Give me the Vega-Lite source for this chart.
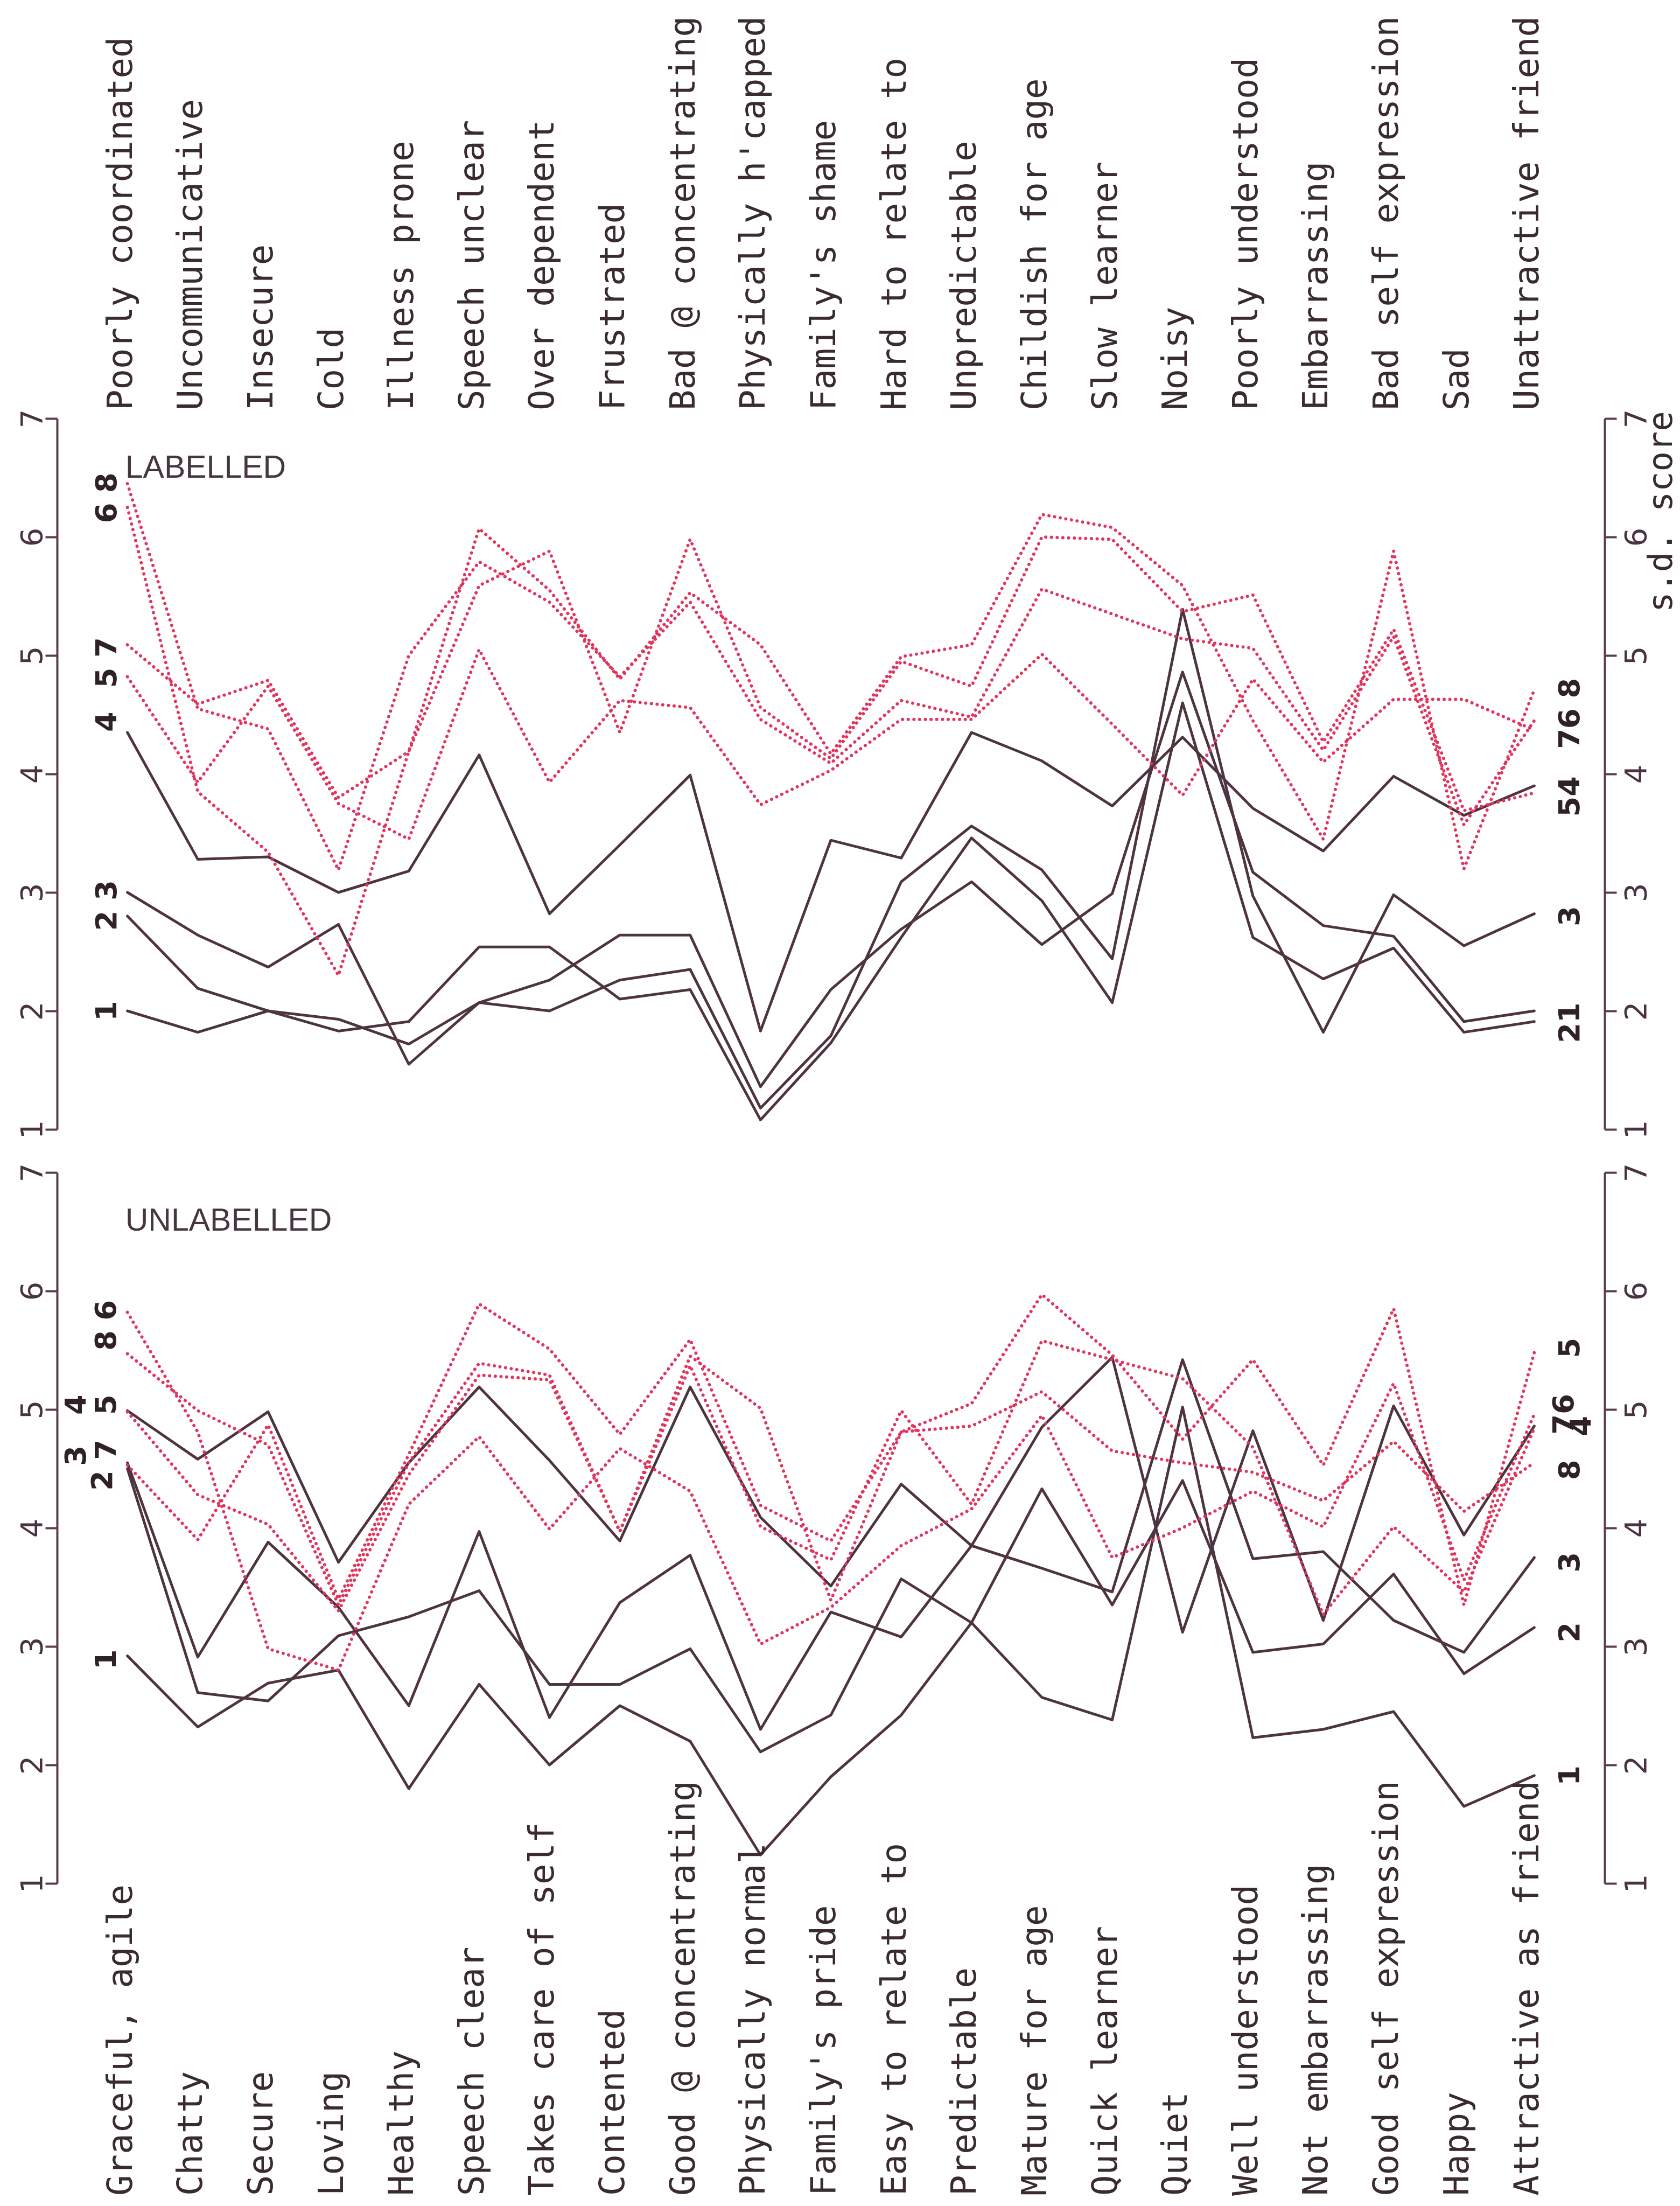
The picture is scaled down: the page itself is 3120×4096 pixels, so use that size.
{
"$schema": "https://vega.github.io/schema/vega-lite/v6.json",
"background": "white",
"padding": {"left": 32, "top": 29, "right": 16, "bottom": 8},
"config": {"view": {"stroke": null}, "font": "DejaVu Sans"},
"bounds": "flush",
"spacing": 80,
"datasets": {
"traits": [
{"t":1,"neg":"Poorly coordinated","pos":"Graceful, agile"},
{"t":2,"neg":"Uncommunicative","pos":"Chatty"},
{"t":3,"neg":"Insecure","pos":"Secure"},
{"t":4,"neg":"Cold","pos":"Loving"},
{"t":5,"neg":"Illness prone","pos":"Healthy"},
{"t":6,"neg":"Speech unclear","pos":"Speech clear"},
{"t":7,"neg":"Over dependent","pos":"Takes care of self"},
{"t":8,"neg":"Frustrated","pos":"Contented"},
{"t":9,"neg":"Bad @ concentrating","pos":"Good @ concentrating"},
{"t":10,"neg":"Physically h'capped","pos":"Physically normal"},
{"t":11,"neg":"Family's shame","pos":"Family's pride"},
{"t":12,"neg":"Hard to relate to","pos":"Easy to relate to"},
{"t":13,"neg":"Unpredictable","pos":"Predictable"},
{"t":14,"neg":"Childish for age","pos":"Mature for age"},
{"t":15,"neg":"Slow learner","pos":"Quick learner"},
{"t":16,"neg":"Noisy","pos":"Quiet"},
{"t":17,"neg":"Poorly understood","pos":"Well understood"},
{"t":18,"neg":"Embarrassing","pos":"Not embarrassing"},
{"t":19,"neg":"Bad self expression","pos":"Good self expression"},
{"t":20,"neg":"Sad","pos":"Happy"},
{"t":21,"neg":"Unattractive friend","pos":"Attractive as friend"}
],
"Ls": [
{"s":"S4","t":1,"v":4.35},{"s":"S4","t":2,"v":3.28},{"s":"S4","t":3,"v":3.30},{"s":"S4","t":4,"v":3.0},{"s":"S4","t":5,"v":3.18},{"s":"S4","t":6,"v":4.16},{"s":"S4","t":7,"v":2.82},{"s":"S4","t":8,"v":3.40},{"s":"S4","t":9,"v":3.99},{"s":"S4","t":10,"v":1.83},{"s":"S4","t":11,"v":3.44},{"s":"S4","t":12,"v":3.29},{"s":"S4","t":13,"v":4.35},{"s":"S4","t":14,"v":4.11},{"s":"S4","t":15,"v":3.73},{"s":"S4","t":16,"v":4.31},{"s":"S4","t":17,"v":3.71},{"s":"S4","t":18,"v":3.35},{"s":"S4","t":19,"v":3.98},{"s":"S4","t":20,"v":3.65},{"s":"S4","t":21,"v":3.90},
{"s":"P","t":1,"v":3.0},{"s":"P","t":2,"v":2.64},{"s":"P","t":3,"v":2.37},{"s":"P","t":4,"v":2.73},{"s":"P","t":5,"v":1.55},{"s":"P","t":6,"v":2.07},{"s":"P","t":7,"v":2.0},{"s":"P","t":8,"v":2.26},{"s":"P","t":9,"v":2.35},{"s":"P","t":10,"v":1.18},{"s":"P","t":11,"v":1.79},{"s":"P","t":12,"v":3.09},{"s":"P","t":13,"v":3.56},{"s":"P","t":14,"v":3.19},{"s":"P","t":15,"v":2.44},{"s":"P","t":16,"v":5.39},{"s":"P","t":17,"v":2.97},{"s":"P","t":18,"v":1.82},{"s":"P","t":19,"v":2.98},{"s":"P","t":20,"v":2.55},{"s":"P","t":21,"v":2.82},
{"s":"Q","t":1,"v":2.8},{"s":"Q","t":2,"v":2.19},{"s":"Q","t":3,"v":2.0},{"s":"Q","t":4,"v":1.93},{"s":"Q","t":5,"v":1.72},{"s":"Q","t":6,"v":2.07},{"s":"Q","t":7,"v":2.26},{"s":"Q","t":8,"v":2.64},{"s":"Q","t":9,"v":2.64},{"s":"Q","t":10,"v":1.36},{"s":"Q","t":11,"v":2.18},{"s":"Q","t":12,"v":2.69},{"s":"Q","t":13,"v":3.09},{"s":"Q","t":14,"v":2.56},{"s":"Q","t":15,"v":2.99},{"s":"Q","t":16,"v":4.86},{"s":"Q","t":17,"v":3.17},{"s":"Q","t":18,"v":2.72},{"s":"Q","t":19,"v":2.63},{"s":"Q","t":20,"v":1.91},{"s":"Q","t":21,"v":2.0},
{"s":"R","t":1,"v":2.0},{"s":"R","t":2,"v":1.82},{"s":"R","t":3,"v":2.0},{"s":"R","t":4,"v":1.83},{"s":"R","t":5,"v":1.91},{"s":"R","t":6,"v":2.54},{"s":"R","t":7,"v":2.54},{"s":"R","t":8,"v":2.10},{"s":"R","t":9,"v":2.18},{"s":"R","t":10,"v":1.08},{"s":"R","t":11,"v":1.73},{"s":"R","t":12,"v":2.62},{"s":"R","t":13,"v":3.46},{"s":"R","t":14,"v":2.93},{"s":"R","t":15,"v":2.07},{"s":"R","t":16,"v":4.60},{"s":"R","t":17,"v":2.62},{"s":"R","t":18,"v":2.27},{"s":"R","t":19,"v":2.53},{"s":"R","t":20,"v":1.82},{"s":"R","t":21,"v":1.91}
],
"Ld": [
{"s":"X","t":1,"v":6.45},{"s":"X","t":2,"v":4.55},{"s":"X","t":3,"v":4.38},{"s":"X","t":4,"v":3.19},{"s":"X","t":5,"v":5.0},{"s":"X","t":6,"v":5.79},{"s":"X","t":7,"v":5.45},{"s":"X","t":8,"v":4.82},{"s":"X","t":9,"v":5.45},{"s":"X","t":10,"v":4.46},{"s":"X","t":11,"v":4.09},{"s":"X","t":12,"v":4.62},{"s":"X","t":13,"v":4.48},{"s":"X","t":14,"v":5.56},{"s":"X","t":15,"v":5.35},{"s":"X","t":16,"v":5.14},{"s":"X","t":17,"v":5.06},{"s":"X","t":18,"v":4.20},{"s":"X","t":19,"v":5.16},{"s":"X","t":20,"v":3.57},{"s":"X","t":21,"v":4.45},
{"s":"Y","t":1,"v":6.25},{"s":"Y","t":2,"v":3.85},{"s":"Y","t":3,"v":3.34},{"s":"Y","t":4,"v":2.30},{"s":"Y","t":5,"v":4.19},{"s":"Y","t":6,"v":6.07},{"s":"Y","t":7,"v":5.55},{"s":"Y","t":8,"v":4.80},{"s":"Y","t":9,"v":5.53},{"s":"Y","t":10,"v":5.09},{"s":"Y","t":11,"v":4.17},{"s":"Y","t":12,"v":4.99},{"s":"Y","t":13,"v":5.09},{"s":"Y","t":14,"v":6.19},{"s":"Y","t":15,"v":6.08},{"s":"Y","t":16,"v":5.59},{"s":"Y","t":17,"v":4.45},{"s":"Y","t":18,"v":3.45},{"s":"Y","t":19,"v":5.88},{"s":"Y","t":20,"v":3.20},{"s":"Y","t":21,"v":4.71},
{"s":"Z","t":1,"v":5.09},{"s":"Z","t":2,"v":4.59},{"s":"Z","t":3,"v":4.79},{"s":"Z","t":4,"v":3.80},{"s":"Z","t":5,"v":4.19},{"s":"Z","t":6,"v":5.59},{"s":"Z","t":7,"v":5.88},{"s":"Z","t":8,"v":4.35},{"s":"Z","t":9,"v":5.98},{"s":"Z","t":10,"v":4.56},{"s":"Z","t":11,"v":4.13},{"s":"Z","t":12,"v":4.95},{"s":"Z","t":13,"v":4.74},{"s":"Z","t":14,"v":6.0},{"s":"Z","t":15,"v":5.98},{"s":"Z","t":16,"v":5.37},{"s":"Z","t":17,"v":5.51},{"s":"Z","t":18,"v":4.27},{"s":"Z","t":19,"v":5.22},{"s":"Z","t":20,"v":3.69},{"s":"Z","t":21,"v":3.84},
{"s":"W","t":1,"v":4.82},{"s":"W","t":2,"v":3.93},{"s":"W","t":3,"v":4.74},{"s":"W","t":4,"v":3.75},{"s":"W","t":5,"v":3.45},{"s":"W","t":6,"v":5.05},{"s":"W","t":7,"v":3.93},{"s":"W","t":8,"v":4.62},{"s":"W","t":9,"v":4.56},{"s":"W","t":10,"v":3.74},{"s":"W","t":11,"v":4.03},{"s":"W","t":12,"v":4.46},{"s":"W","t":13,"v":4.46},{"s":"W","t":14,"v":5.01},{"s":"W","t":15,"v":4.42},{"s":"W","t":16,"v":3.82},{"s":"W","t":17,"v":4.80},{"s":"W","t":18,"v":4.10},{"s":"W","t":19,"v":4.63},{"s":"W","t":20,"v":4.63},{"s":"W","t":21,"v":4.37}
],
"Us": [
{"s":"b","t":1,"v":4.99},{"s":"b","t":2,"v":4.58},{"s":"b","t":3,"v":4.98},{"s":"b","t":4,"v":3.71},{"s":"b","t":5,"v":4.55},{"s":"b","t":6,"v":5.19},{"s":"b","t":7,"v":4.57},{"s":"b","t":8,"v":3.89},{"s":"b","t":9,"v":5.19},{"s":"b","t":10,"v":4.09},{"s":"b","t":11,"v":3.51},{"s":"b","t":12,"v":4.37},{"s":"b","t":13,"v":3.85},{"s":"b","t":14,"v":3.66},{"s":"b","t":15,"v":3.46},{"s":"b","t":16,"v":5.42},{"s":"b","t":17,"v":3.74},{"s":"b","t":18,"v":3.80},{"s":"b","t":19,"v":3.22},{"s":"b","t":20,"v":2.95},{"s":"b","t":21,"v":3.75},
{"s":"d","t":1,"v":4.55},{"s":"d","t":2,"v":2.91},{"s":"d","t":3,"v":3.88},{"s":"d","t":4,"v":3.33},{"s":"d","t":5,"v":2.50},{"s":"d","t":6,"v":3.97},{"s":"d","t":7,"v":2.40},{"s":"d","t":8,"v":3.37},{"s":"d","t":9,"v":3.77},{"s":"d","t":10,"v":2.30},{"s":"d","t":11,"v":3.29},{"s":"d","t":12,"v":3.08},{"s":"d","t":13,"v":3.85},{"s":"d","t":14,"v":4.85},{"s":"d","t":15,"v":5.44},{"s":"d","t":16,"v":3.12},{"s":"d","t":17,"v":4.82},{"s":"d","t":18,"v":3.22},{"s":"d","t":19,"v":5.03},{"s":"d","t":20,"v":3.94},{"s":"d","t":21,"v":4.86},
{"s":"c","t":1,"v":4.50},{"s":"c","t":2,"v":2.61},{"s":"c","t":3,"v":2.54},{"s":"c","t":4,"v":3.09},{"s":"c","t":5,"v":3.25},{"s":"c","t":6,"v":3.47},{"s":"c","t":7,"v":2.68},{"s":"c","t":8,"v":2.68},{"s":"c","t":9,"v":2.98},{"s":"c","t":10,"v":2.11},{"s":"c","t":11,"v":2.42},{"s":"c","t":12,"v":3.57},{"s":"c","t":13,"v":3.20},{"s":"c","t":14,"v":2.57},{"s":"c","t":15,"v":2.38},{"s":"c","t":16,"v":5.02},{"s":"c","t":17,"v":2.23},{"s":"c","t":18,"v":2.30},{"s":"c","t":19,"v":2.45},{"s":"c","t":20,"v":1.65},{"s":"c","t":21,"v":1.91},
{"s":"a","t":1,"v":2.92},{"s":"a","t":2,"v":2.32},{"s":"a","t":3,"v":2.69},{"s":"a","t":4,"v":2.80},{"s":"a","t":5,"v":1.80},{"s":"a","t":6,"v":2.68},{"s":"a","t":7,"v":2.0},{"s":"a","t":8,"v":2.50},{"s":"a","t":9,"v":2.20},{"s":"a","t":10,"v":1.24},{"s":"a","t":11,"v":1.90},{"s":"a","t":12,"v":2.42},{"s":"a","t":13,"v":3.20},{"s":"a","t":14,"v":4.33},{"s":"a","t":15,"v":3.35},{"s":"a","t":16,"v":4.40},{"s":"a","t":17,"v":2.95},{"s":"a","t":18,"v":3.02},{"s":"a","t":19,"v":3.61},{"s":"a","t":20,"v":2.77},{"s":"a","t":21,"v":3.16}
],
"Ud": [
{"s":"RA","t":1,"v":5.47},{"s":"RA","t":2,"v":4.99},{"s":"RA","t":3,"v":4.70},{"s":"RA","t":4,"v":3.35},{"s":"RA","t":5,"v":4.55},{"s":"RA","t":6,"v":5.39},{"s":"RA","t":7,"v":5.29},{"s":"RA","t":8,"v":3.97},{"s":"RA","t":9,"v":5.45},{"s":"RA","t":10,"v":5.01},{"s":"RA","t":11,"v":3.39},{"s":"RA","t":12,"v":4.81},{"s":"RA","t":13,"v":4.86},{"s":"RA","t":14,"v":5.15},{"s":"RA","t":15,"v":4.65},{"s":"RA","t":16,"v":4.55},{"s":"RA","t":17,"v":4.47},{"s":"RA","t":18,"v":4.23},{"s":"RA","t":19,"v":4.73},{"s":"RA","t":20,"v":4.14},{"s":"RA","t":21,"v":4.55},
{"s":"RB","t":1,"v":5.82},{"s":"RB","t":2,"v":4.81},{"s":"RB","t":3,"v":2.98},{"s":"RB","t":4,"v":2.80},{"s":"RB","t":5,"v":4.20},{"s":"RB","t":6,"v":4.77},{"s":"RB","t":7,"v":3.99},{"s":"RB","t":8,"v":4.67},{"s":"RB","t":9,"v":4.31},{"s":"RB","t":10,"v":3.02},{"s":"RB","t":11,"v":3.33},{"s":"RB","t":12,"v":3.85},{"s":"RB","t":13,"v":4.16},{"s":"RB","t":14,"v":4.95},{"s":"RB","t":15,"v":3.75},{"s":"RB","t":16,"v":4.0},{"s":"RB","t":17,"v":4.31},{"s":"RB","t":18,"v":4.01},{"s":"RB","t":19,"v":5.22},{"s":"RB","t":20,"v":3.56},{"s":"RB","t":21,"v":4.96},
{"s":"RC","t":1,"v":4.98},{"s":"RC","t":2,"v":4.28},{"s":"RC","t":3,"v":4.03},{"s":"RC","t":4,"v":3.30},{"s":"RC","t":5,"v":4.45},{"s":"RC","t":6,"v":5.29},{"s":"RC","t":7,"v":5.25},{"s":"RC","t":8,"v":3.97},{"s":"RC","t":9,"v":5.37},{"s":"RC","t":10,"v":4.01},{"s":"RC","t":11,"v":3.73},{"s":"RC","t":12,"v":4.99},{"s":"RC","t":13,"v":4.20},{"s":"RC","t":14,"v":5.58},{"s":"RC","t":15,"v":5.42},{"s":"RC","t":16,"v":5.26},{"s":"RC","t":17,"v":4.68},{"s":"RC","t":18,"v":3.27},{"s":"RC","t":19,"v":4.01},{"s":"RC","t":20,"v":3.46},{"s":"RC","t":21,"v":4.84},
{"s":"RD","t":1,"v":4.53},{"s":"RD","t":2,"v":3.90},{"s":"RD","t":3,"v":4.87},{"s":"RD","t":4,"v":3.40},{"s":"RD","t":5,"v":4.62},{"s":"RD","t":6,"v":5.89},{"s":"RD","t":7,"v":5.51},{"s":"RD","t":8,"v":4.79},{"s":"RD","t":9,"v":5.59},{"s":"RD","t":10,"v":4.19},{"s":"RD","t":11,"v":3.89},{"s":"RD","t":12,"v":4.81},{"s":"RD","t":13,"v":5.05},{"s":"RD","t":14,"v":5.97},{"s":"RD","t":15,"v":5.46},{"s":"RD","t":16,"v":4.75},{"s":"RD","t":17,"v":5.42},{"s":"RD","t":18,"v":4.53},{"s":"RD","t":19,"v":5.85},{"s":"RD","t":20,"v":3.35},{"s":"RD","t":21,"v":5.48}
],
"tags": [
{"p":"L","k":"n","lab":"6 8","t":0.72,"v":6.33},
{"p":"L","k":"n","lab":"5 7","t":0.72,"v":4.94},
{"p":"L","k":"n","lab":"4","t":0.72,"v":4.44},
{"p":"L","k":"n","lab":"2 3","t":0.72,"v":2.89},
{"p":"L","k":"n","lab":"1","t":0.72,"v":2.0},
{"p":"L","k":"n","lab":"76 8","t":21.52,"v":4.51},
{"p":"L","k":"n","lab":"54","t":21.52,"v":3.81},
{"p":"L","k":"n","lab":"3","t":21.52,"v":2.80},
{"p":"L","k":"n","lab":"21","t":21.52,"v":1.90},
{"p":"U","k":"n","lab":"8 6","t":0.71,"v":5.71},
{"p":"U","k":"n","lab":"5","t":0.71,"v":5.04},
{"p":"U","k":"n","lab":"7","t":0.71,"v":4.66},
{"p":"U","k":"n","lab":"2","t":0.66,"v":4.40},
{"p":"U","k":"n","lab":"4","t":0.28,"v":5.04},
{"p":"U","k":"n","lab":"3","t":0.28,"v":4.61},
{"p":"U","k":"n","lab":"1","t":0.71,"v":2.89},
{"p":"U","k":"n","lab":"5","t":21.52,"v":5.52},
{"p":"U","k":"n","lab":"76","t":21.43,"v":4.96},
{"p":"U","k":"n","lab":"4","t":21.68,"v":4.86},
{"p":"U","k":"n","lab":"8","t":21.52,"v":4.49},
{"p":"U","k":"n","lab":"3","t":21.52,"v":3.71},
{"p":"U","k":"n","lab":"2","t":21.52,"v":3.12},
{"p":"U","k":"n","lab":"1","t":21.52,"v":1.91},
{"p":"L","k":"title","lab":"LABELLED","t":0.97,"v":6.58},
{"p":"U","k":"title","lab":"UNLABELLED","t":0.97,"v":6.59}
]
},
"vconcat": [
{
"width": 2874, "height": 1320,
"resolve": {"axis": {"y": "independent"}},
"layer": [
{"data": {"name": "Ls"},
 "mark": {"type": "line", "color": "#4d3440", "strokeWidth": 5, "strokeJoin": "round", "strokeCap": "round"},
 "encoding": {
  "x": {"field": "t", "type": "quantitative", "scale": {"domain": [0, 22], "nice": false, "zero": false}, "axis": null},
  "y": {"field": "v", "type": "quantitative", "scale": {"domain": [1, 7], "nice": false, "zero": false},
   "axis": {"orient": "left", "values": [1,2,3,4,5,6,7], "title": null, "grid": false, "domainColor": "#5a3d4a", "domainWidth": 4, "tickColor": "#5a3d4a", "tickWidth": 4, "tickSize": 22,
    "labelAngle": 270, "labelAlign": "center", "labelBaseline": "alphabetic", "labelPadding": 7, "labelFont": "DejaVu Sans", "labelFontSize": 56, "labelColor": "#4a3340", "labelFlush": false, "labelOverlap": false}},
  "detail": {"field": "s"}
 }},
{"data": {"name": "Ld"},
 "mark": {"type": "line", "color": "#e0355d", "strokeWidth": 6, "strokeDash": [0.1, 10.5], "strokeCap": "round", "strokeJoin": "round"},
 "encoding": {
  "x": {"field": "t", "type": "quantitative", "scale": {"domain": [0, 22], "nice": false, "zero": false}, "axis": null},
  "y": {"field": "v", "type": "quantitative", "scale": {"domain": [1, 7], "nice": false, "zero": false},
   "axis": {"orient": "right", "values": [1,2,3,4,5,6,7], "grid": false, "domainColor": "#5a3d4a", "domainWidth": 4, "tickColor": "#5a3d4a", "tickWidth": 4, "tickSize": 22,
    "labelAngle": 270, "labelAlign": "center", "labelBaseline": "top", "labelPadding": 10, "labelFont": "DejaVu Sans", "labelFontSize": 56, "labelColor": "#4a3340", "labelFlush": false, "labelOverlap": false,
    "title": "s.d. score", "titleAngle": 270, "titleFont": "DejaVu Sans Mono", "titleFontSize": 62, "titleFontWeight": "normal", "titleColor": "#3a2a32", "titleAlign": "right", "titleBaseline": "alphabetic", "titleAnchor": "end", "titleX": 124, "titleY": -14}},
  "detail": {"field": "s"}
 }},
{"data": {"name": "traits"},
 "mark": {"type": "text", "angle": 270, "font": "DejaVu Sans Mono", "fontSize": 64, "color": "#3a2a32", "align": "left", "baseline": "alphabetic", "dy": 8},
 "encoding": {
  "x": {"field": "t", "type": "quantitative", "scale": {"domain": [0, 22], "nice": false, "zero": false}, "axis": null},
  "y": {"datum": 7.068, "type": "quantitative", "scale": {"domain": [1, 7], "nice": false, "zero": false}, "axis": null},
  "text": {"field": "neg"}
 }},
{"data": {"name": "tags"},
 "transform": [{"filter": "datum.p == 'L' && datum.k == 'n'"}],
 "mark": {"type": "text", "angle": 270, "font": "DejaVu Sans", "fontWeight": "bold", "fontSize": 54, "color": "#2e2226", "align": "center", "baseline": "middle"},
 "encoding": {
  "x": {"field": "t", "type": "quantitative", "scale": {"domain": [0, 22], "nice": false, "zero": false}, "axis": null},
  "y": {"field": "v", "type": "quantitative", "scale": {"domain": [1, 7], "nice": false, "zero": false}, "axis": null},
  "text": {"field": "lab"}
 }},
{"data": {"name": "tags"},
 "transform": [{"filter": "datum.p == 'L' && datum.k == 'title'"}],
 "mark": {"type": "text", "font": "Liberation Sans", "fontSize": 59, "color": "#463640", "align": "left", "baseline": "middle"},
 "encoding": {
  "x": {"field": "t", "type": "quantitative", "scale": {"domain": [0, 22], "nice": false, "zero": false}, "axis": null},
  "y": {"field": "v", "type": "quantitative", "scale": {"domain": [1, 7], "nice": false, "zero": false}, "axis": null},
  "text": {"field": "lab"}
 }}
]
},
{
"width": 2874, "height": 1320,
"resolve": {"axis": {"y": "independent"}},
"layer": [
{"data": {"name": "Us"},
 "mark": {"type": "line", "color": "#4d3440", "strokeWidth": 5, "strokeJoin": "round", "strokeCap": "round"},
 "encoding": {
  "x": {"field": "t", "type": "quantitative", "scale": {"domain": [0, 22], "nice": false, "zero": false}, "axis": null},
  "y": {"field": "v", "type": "quantitative", "scale": {"domain": [1, 7], "nice": false, "zero": false},
   "axis": {"orient": "left", "values": [1,2,3,4,5,6,7], "title": null, "grid": false, "domainColor": "#5a3d4a", "domainWidth": 4, "tickColor": "#5a3d4a", "tickWidth": 4, "tickSize": 22,
    "labelAngle": 270, "labelAlign": "center", "labelBaseline": "alphabetic", "labelPadding": 7, "labelFont": "DejaVu Sans", "labelFontSize": 56, "labelColor": "#4a3340", "labelFlush": false, "labelOverlap": false}},
  "detail": {"field": "s"}
 }},
{"data": {"name": "Ud"},
 "mark": {"type": "line", "color": "#e0355d", "strokeWidth": 6, "strokeDash": [0.1, 10.5], "strokeCap": "round", "strokeJoin": "round"},
 "encoding": {
  "x": {"field": "t", "type": "quantitative", "scale": {"domain": [0, 22], "nice": false, "zero": false}, "axis": null},
  "y": {"field": "v", "type": "quantitative", "scale": {"domain": [1, 7], "nice": false, "zero": false},
   "axis": {"orient": "right", "values": [1,2,3,4,5,6,7], "title": null, "grid": false, "domainColor": "#5a3d4a", "domainWidth": 4, "tickColor": "#5a3d4a", "tickWidth": 4, "tickSize": 22,
    "labelAngle": 270, "labelAlign": "center", "labelBaseline": "top", "labelPadding": 10, "labelFont": "DejaVu Sans", "labelFontSize": 56, "labelColor": "#4a3340", "labelFlush": false, "labelOverlap": false}},
  "detail": {"field": "s"}
 }},
{"data": {"name": "traits"},
 "mark": {"type": "text", "angle": 270, "font": "DejaVu Sans Mono", "fontSize": 64, "color": "#3a2a32", "align": "left", "baseline": "alphabetic", "dy": 8},
 "encoding": {
  "x": {"field": "t", "type": "quantitative", "scale": {"domain": [0, 22], "nice": false, "zero": false}, "axis": null},
  "y": {"datum": -1.636, "type": "quantitative", "scale": {"domain": [1, 7], "nice": false, "zero": false}, "axis": null},
  "text": {"field": "pos"}
 }},
{"data": {"name": "tags"},
 "transform": [{"filter": "datum.p == 'U' && datum.k == 'n'"}],
 "mark": {"type": "text", "angle": 270, "font": "DejaVu Sans", "fontWeight": "bold", "fontSize": 54, "color": "#2e2226", "align": "center", "baseline": "middle"},
 "encoding": {
  "x": {"field": "t", "type": "quantitative", "scale": {"domain": [0, 22], "nice": false, "zero": false}, "axis": null},
  "y": {"field": "v", "type": "quantitative", "scale": {"domain": [1, 7], "nice": false, "zero": false}, "axis": null},
  "text": {"field": "lab"}
 }},
{"data": {"name": "tags"},
 "transform": [{"filter": "datum.p == 'U' && datum.k == 'title'"}],
 "mark": {"type": "text", "font": "Liberation Sans", "fontSize": 59, "color": "#463640", "align": "left", "baseline": "middle"},
 "encoding": {
  "x": {"field": "t", "type": "quantitative", "scale": {"domain": [0, 22], "nice": false, "zero": false}, "axis": null},
  "y": {"field": "v", "type": "quantitative", "scale": {"domain": [1, 7], "nice": false, "zero": false}, "axis": null},
  "text": {"field": "lab"}
 }}
]
}
]
}
